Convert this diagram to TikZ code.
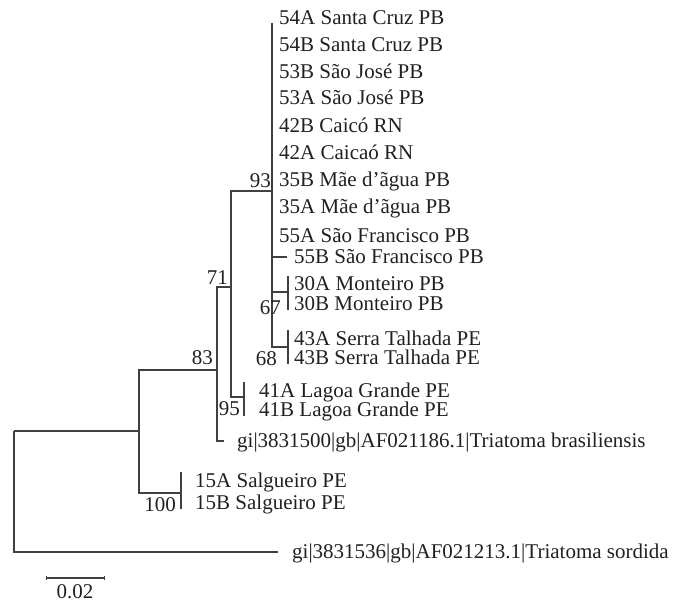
\documentclass[tikz,border=0pt]{standalone}
\usepackage{fontspec}
\setmainfont{Liberation Serif}
\definecolor{branchgray}{RGB}{64,64,64}
\definecolor{labelblack}{RGB}{35,31,32}
\usepackage{tikz}
\usetikzlibrary{arrows.meta}

\begin{document}
\begin{tikzpicture}[x=1pt,y=-1pt,
    branch/.style={draw=branchgray,line width=1.2pt},
    leaf/.style={anchor=base west,inner sep=0pt,text=labelblack,font=\fontsize{21}{25}\selectfont},
    boot/.style={anchor=base east,inner sep=0pt,text=labelblack,font=\fontsize{21}{25}\selectfont}]
  \useasboundingbox (0,0) rectangle (678,602);

  % inner nodes of the tree
  \coordinate (root) at (14,431);
  \coordinate (nA)   at (139,431);
  \coordinate (n83)  at (217,370);
  \coordinate (n100) at (181,493);
  \coordinate (n71)  at (231,287);
  \coordinate (n93)  at (272,191);
  \coordinate (n95)  at (244,397);
  \coordinate (n67)  at (288,292);
  \coordinate (n68)  at (288,347);
  \coordinate (t55B)  at (287,257);
  \coordinate (tBras) at (224,441);
  \coordinate (tSord) at (278,552);

  % taxa
  \node[leaf] (l54A) at (279,25)  {54A Santa Cruz PB};
  \node[leaf] (l54B) at (279,52)  {54B Santa Cruz PB};
  \node[leaf] (l53B) at (279,79)  {53B São José PB};
  \node[leaf] (l53A) at (279,105) {53A São José PB};
  \node[leaf] (l42B) at (279,132) {42B Caicó RN};
  \node[leaf] (l42A) at (279,159) {42A Caicaó RN};
  \node[leaf] (l35B) at (279,186) {35B Mãe d’ãgua PB};
  \node[leaf] (l35A) at (279,213) {35A Mãe d’ãgua PB};
  \node[leaf] (l55A) at (279,242) {55A São Francisco PB};
  \node[leaf] (l55B) at (294,263) {55B São Francisco PB};
  \node[leaf] (l30A) at (294,290) {30A Monteiro PB};
  \node[leaf] (l30B) at (294,310) {30B Monteiro PB};
  \node[leaf] (l43A) at (294,345) {43A Serra Talhada PE};
  \node[leaf] (l43B) at (294,364) {43B Serra Talhada PE};
  \node[leaf] (l41A) at (259,397) {41A Lagoa Grande PE};
  \node[leaf] (l41B) at (259,416) {41B Lagoa Grande PE};
  \node[leaf] (lBras) at (237,447) {gi|3831500|gb|AF021186.1|Triatoma brasiliensis};
  \node[leaf] (l15A) at (195,487) {15A Salgueiro PE};
  \node[leaf] (l15B) at (195,509) {15B Salgueiro PE};
  \node[leaf] (lSord) at (292,558) {gi|3831536|gb|AF021213.1|Triatoma sordida};

  % branches
  \draw[branch] (root) -- (nA);
  \draw[branch] (root) |- (tSord);
  \draw[branch] (nA) |- (n83);
  \draw[branch] (nA) |- (n100);
  \draw[branch] (n83) |- (n71);
  \draw[branch] (n83) |- (tBras);
  \draw[branch] (n71) |- (n93);
  \draw[branch] (n71) |- (n95);
  \draw[branch] (n93 |- l54A.mid west) -- (n93) |- (n68);
  \draw[branch] (n93) |- (t55B);
  \draw[branch] (n93) |- (n67);
  \draw[branch] (n67 |- l30A.north) -- (n67 |- l30B.base);
  \draw[branch] (n68 |- l43A.north) -- (n68 |- l43B.base);
  \draw[branch] (n95 |- l41A.north) -- (n95 |- l41B.base);
  \draw[branch] (n100 |- l15A.north) -- (n100 |- l15B.base);

  % bootstrap values
  \node[boot] (b93)  at (271,187) {93};
  \node[boot] (b71)  at (228,284) {71};
  \node[boot] (b83)  at (213,364) {83};
  \node[boot] (b95)  at (240,415) {95};
  \node[boot] (b67)  at (281,314) {67};
  \node[boot] (b68)  at (277,365) {68};
  \node[boot] (b100) at (176,511) {100};

  % scale bar
  \coordinate (sbL) at (46,578);
  \coordinate (sbR) at (105,578);
  \draw[branch,{Bar[width=4pt]}-{Bar[width=4pt]}] (sbL) -- (sbR);
  \node[leaf,anchor=base] (sbLabel) at (75,598) {0.02};
\end{tikzpicture}
\end{document}
